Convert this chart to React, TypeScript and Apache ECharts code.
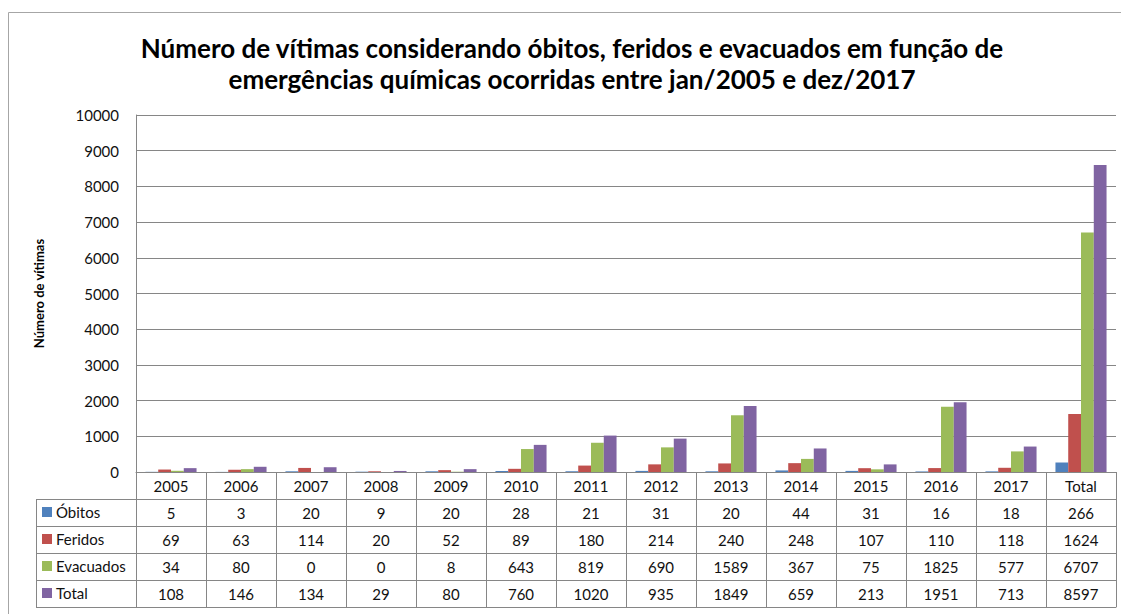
import React, { useEffect, useRef } from "react";
import * as echarts from "echarts";

const years = ["2005", "2006", "2007", "2008", "2009", "2010", "2011", "2012", "2013", "2014", "2015", "2016", "2017", "Total"];
const obitos = [5, 3, 20, 9, 20, 28, 21, 31, 20, 44, 31, 16, 18, 266];
const feridos = [69, 63, 114, 20, 52, 89, 180, 214, 240, 248, 107, 110, 118, 1624];
const evacuados = [34, 80, 0, 0, 8, 643, 819, 690, 1589, 367, 75, 1825, 577, 6707];
const totais = [108, 146, 134, 29, 80, 760, 1020, 935, 1849, 659, 213, 1951, 713, 8597];
const seriesNames = ["Óbitos", "Feridos", "Evacuados", "Total"];
const seriesColors = ["#4F81BD", "#C0504D", "#9BBB59", "#8064A2"];
const yTicks = { min: 0, max: 10000, interval: 1000 };

const titleText =
  "Número de vítimas considerando óbitos, feridos e evacuados em função de\nemergências químicas ocorridas entre jan/2005 e dez/2017";
const yName = "Número de vítimas";

const FONT = "Lato, Calibri, sans-serif";
const GRID = "#868686";
const ROW_H = 27;
const GRID_LEFT = 136;
const GRID_TOP = 115;
const GRID_W = 980;
const GRID_H = 357;

export default function App() {
  const ref = useRef<HTMLDivElement>(null);
  useEffect(() => {
    if (!ref.current) return;
    const chart = echarts.init(ref.current, null, { renderer: "svg" });
    const seriesData = [obitos, feridos, evacuados, totais];
    const rows = [years, ...seriesData.map((d) => d.map((v) => String(v)))];

    const tableAxes: any[] = rows.map((row, k) => ({
      type: "category",
      gridIndex: 0,
      position: "bottom",
      offset: k * ROW_H,
      data: row,
      axisLine: { show: true, lineStyle: { color: GRID, width: 1 } },
      axisTick: { show: true, length: ROW_H, interval: 0, lineStyle: { color: GRID, width: 1 } },
      axisLabel: {
        show: true,
        interval: 0,
        margin: ROW_H / 2,
        verticalAlign: "middle",
        fontSize: 15,
        fontFamily: FONT,
        color: "#111",
      },
      splitLine: { show: false },
    }));
    tableAxes.push({
      type: "category",
      gridIndex: 0,
      position: "bottom",
      offset: rows.length * ROW_H,
      data: years,
      axisLine: { show: true, lineStyle: { color: GRID, width: 1 } },
      axisTick: { show: false },
      axisLabel: { show: false },
    });

    const tableBottom = GRID_TOP + GRID_H + rows.length * ROW_H;
    const graphic: any[] = [
      {
        type: "rect",
        shape: { x: 8.5, y: 12.5, width: 1300, height: 800 },
        style: { fill: "none", stroke: "#A6A6A6", lineWidth: 1 },
        silent: true,
      },
      {
        type: "line",
        shape: { x1: 36.5, y1: GRID_TOP + GRID_H + ROW_H, x2: 36.5, y2: tableBottom },
        style: { stroke: GRID, lineWidth: 1 },
      },
    ];
    for (let k = 1; k <= rows.length; k++) {
      const y = GRID_TOP + GRID_H + k * ROW_H + 0.5;
      graphic.push({
        type: "line",
        shape: { x1: 36, y1: y, x2: GRID_LEFT, y2: y },
        style: { stroke: GRID, lineWidth: 1 },
      });
    }

    chart.setOption({
      animation: false,
      backgroundColor: "#fff",
      title: {
        text: titleText,
        left: 567,
        top: 27,
        textAlign: "center",
        textStyle: {
          fontFamily: FONT,
          fontWeight: "bold",
          fontSize: 26,
          lineHeight: 31,
          color: "#000",
        },
      },
      legend: {
        orient: "vertical",
        left: 42,
        top: GRID_TOP + GRID_H + ROW_H + 4,
        padding: 0,
        itemWidth: 10,
        itemHeight: 10,
        itemGap: ROW_H - 18,
        icon: "rect",
        selectedMode: false,
        data: seriesNames,
        textStyle: { fontFamily: FONT, fontSize: 15, lineHeight: 15, color: "#111", padding: [0, 0, 3, -1] },
      },
      grid: { left: GRID_LEFT, top: GRID_TOP, width: GRID_W, height: GRID_H, containLabel: false },
      xAxis: tableAxes,
      yAxis: {
        type: "value",
        min: yTicks.min,
        max: yTicks.max,
        interval: yTicks.interval,
        name: yName,
        nameLocation: "middle",
        nameRotate: 90,
        nameGap: 91,
        nameTextStyle: { fontFamily: FONT, fontWeight: "bold", fontSize: 13, color: "#000" },
        axisLine: { show: true, lineStyle: { color: GRID, width: 1 } },
        axisTick: { show: false },
        axisLabel: {
          fontFamily: FONT,
          fontSize: 15,
          color: "#111",
          margin: 17,
          formatter: (v: number) => String(v),
        },
        splitLine: { show: true, lineStyle: { color: GRID, width: 1 } },
      },
      series: seriesData.map((d, i) => ({
        name: seriesNames[i],
        type: "bar",
        xAxisIndex: 0,
        yAxisIndex: 0,
        data: d,
        barGap: "0%",
        barCategoryGap: "27%",
        itemStyle: { color: seriesColors[i] },
      })),
      graphic,
    });
    return () => chart.dispose();
  }, []);
  return (
    <div
      ref={ref}
      style={{ position: "absolute", left: 0, top: 0, width: 1121, height: 614, background: "#fff" }}
    />
  );
}
